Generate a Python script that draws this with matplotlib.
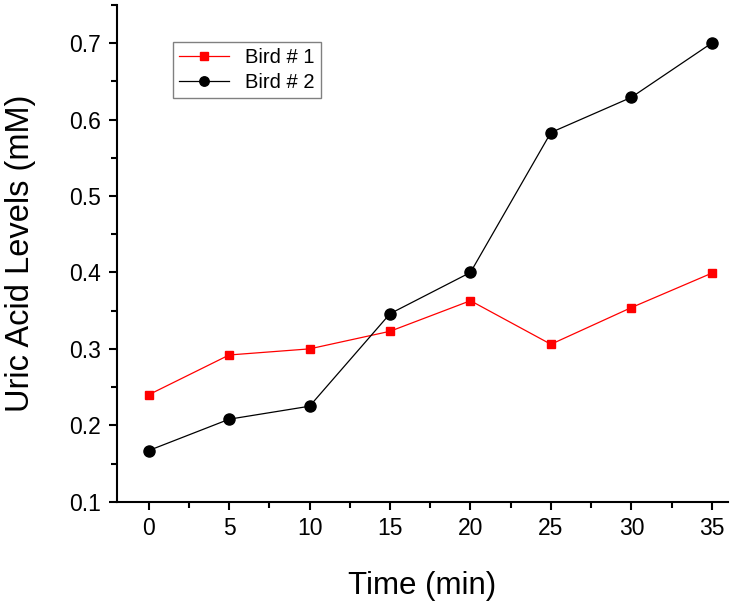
import matplotlib.pyplot as plt
from matplotlib.ticker import MultipleLocator

plt.rcParams['font.family'] = ['Liberation Sans', 'DejaVu Sans']

time_min = [0, 5, 10, 15, 20, 25, 30, 35]
bird1 = [0.240, 0.292, 0.300, 0.323, 0.363, 0.306, 0.354, 0.399]
bird2 = [0.167, 0.208, 0.225, 0.346, 0.400, 0.583, 0.629, 0.700]

fig = plt.figure(figsize=(7.33, 6.06), dpi=100)
ax = fig.add_axes([0.159, 0.172, 0.834, 0.820])

ax.plot(time_min, bird1, color='red', lw=0.9, marker='s', ms=6.3, label='Bird # 1')
ax.plot(time_min, bird2, color='black', lw=0.9, marker='o', ms=8, label='Bird # 2')

ax.set_xlim(-2, 36)
ax.set_ylim(0.1, 0.75)
ax.xaxis.set_major_locator(MultipleLocator(5))
ax.xaxis.set_minor_locator(MultipleLocator(2.5))
ax.yaxis.set_major_locator(MultipleLocator(0.1))
ax.yaxis.set_minor_locator(MultipleLocator(0.05))
ax.tick_params(which='major', direction='out', length=6, width=1.5, labelsize=16.5, pad=5)
ax.tick_params(which='minor', direction='out', length=4, width=1.5)

for s in ['top', 'right']:
    ax.spines[s].set_visible(False)
for s in ['left', 'bottom']:
    ax.spines[s].set_linewidth(1.5)

ax.set_xlabel('Time (min)', fontsize=22.5, labelpad=22)
ax.set_ylabel('Uric Acid Levels (mM)', fontsize=23.5, labelpad=24)

ax.legend(loc='upper left', bbox_to_anchor=(0.092, 0.925), fontsize=14.5,
          fancybox=False, edgecolor='gray', framealpha=1, handlelength=2.5,
          borderpad=0.3, labelspacing=0.3, markerscale=0.85, borderaxespad=0)

fig.savefig('out.png')
